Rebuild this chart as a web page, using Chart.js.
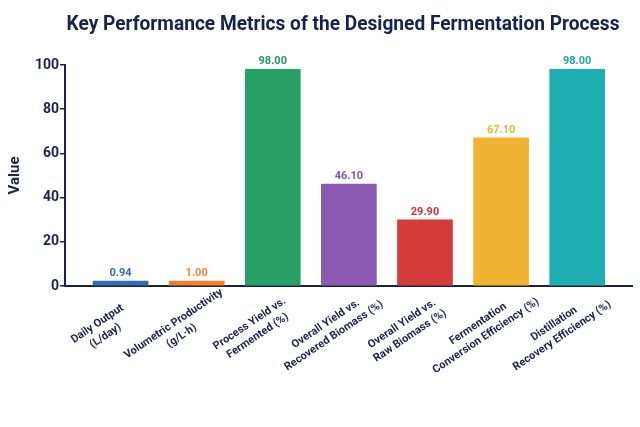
<!DOCTYPE html>
<html>
<head>
<meta charset="utf-8">
<script src="https://cdn.jsdelivr.net/npm/chart.js@4.4.1/dist/chart.umd.min.js"></script>
<style>
  html, body { margin: 0; padding: 0; background: #ffffff; }
  #wrap { width: 640px; height: 427px; position: relative; }
</style>
</head>
<body>
<div id="wrap"><canvas id="c"></canvas></div>
<script>
const chartTitle = "Key Performance Metrics of the Designed Fermentation Process";
const yAxisTitle = "Value";
const categories = [
  ["Daily Output", "(L/day)"],
  ["Volumetric Productivity", "(g/L\u00B7h)"],
  ["Process Yield vs.", "Fermented (%)"],
  ["Overall Yield vs.", "Recovered Biomass (%)"],
  ["Overall Yield vs.", "Raw Biomass (%)"],
  ["Fermentation", "Conversion Efficiency (%)"],
  ["Distillation", "Recovery Efficiency (%)"]
];
const values = [0.94, 1.00, 98.00, 46.10, 29.90, 67.10, 98.00];
const yTicks = [0, 20, 40, 60, 80, 100];

const barColors = ['#2f6db8', '#ef7f2c', '#28a065', '#8c5bb1', '#d53b3b', '#f2b333', '#1eaeb1'];
const labelColors = ['#3467ab', '#ee8634', '#1f9a5f', '#7f55a7', '#cf3131', '#efb02f', '#19a8ab'];
const navy = '#1b2444';

const valueLabels = {
  id: 'valueLabels',
  afterDatasetsDraw(chart) {
    const ctx = chart.ctx;
    const meta = chart.getDatasetMeta(0);
    ctx.save();
    ctx.font = 'bold 11px Roboto';
    ctx.textAlign = 'center';
    ctx.textBaseline = 'alphabetic';
    meta.data.forEach((bar, i) => {
      ctx.fillStyle = labelColors[i];
      ctx.fillText(values[i].toFixed(2), bar.x, bar.y - 5);
    });
    ctx.restore();
  }
};

const xLabels = {
  id: 'xLabels',
  afterDraw(chart) {
    const ctx = chart.ctx;
    const xs = chart.scales.x;
    const ang = 34 * Math.PI / 180;
    const lh = 14.5;
    ctx.save();
    ctx.font = 'bold 11px Roboto';
    ctx.fillStyle = navy;
    ctx.textAlign = 'center';
    ctx.textBaseline = 'middle';
    categories.forEach((lines, i) => {
      const tx = xs.getPixelForValue(i);
      const cx = tx - 19;
      const cy = chart.chartArea.bottom + 44;
      ctx.save();
      ctx.translate(cx, cy);
      ctx.rotate(-ang);
      lines.forEach((ln, k) => {
        ctx.fillText(ln, 0, (k - (lines.length - 1) / 2) * lh);
      });
      ctx.restore();
    });
    ctx.restore();
  }
};

const titlePlugin = {
  id: 'customTitle',
  afterDraw(chart) {
    const ctx = chart.ctx;
    ctx.save();
    ctx.font = 'bold 21px Roboto';
    ctx.fillStyle = '#16234a';
    ctx.textAlign = 'center';
    ctx.textBaseline = 'alphabetic';
    const w = ctx.measureText(chartTitle).width;
    const sx = Math.min(1, 553 / w);
    ctx.translate(343, 30);
    ctx.scale(sx, 1);
    ctx.fillText(chartTitle, 0, 0);
    ctx.restore();
  }
};

new Chart(document.getElementById('c'), {
  type: 'bar',
  data: {
    datasets: [{
      data: values.map((v, i) => ({ x: i, y: v })),
      backgroundColor: barColors,
      borderWidth: 0,
      barThickness: 55,
      minBarLength: 5
    }]
  },
  options: {
    responsive: true,
    maintainAspectRatio: false,
    animation: false,
    layout: { padding: { top: 65, right: 8, bottom: 0, left: 0 } },
    plugins: {
      legend: { display: false },
      tooltip: { enabled: false },
      title: { display: false }
    },
    scales: {
      x: {
        type: 'linear',
        min: -0.73,
        max: 6.72,
        offset: false,
        grid: { display: false },
        border: { display: true, color: navy, width: 2 },
        ticks: { display: false },
        afterFit(scale) { scale.height = 141; }
      },
      y: {
        min: 0,
        max: 100,
        afterBuildTicks(scale) { scale.ticks = yTicks.map(v => ({ value: v })); },
        grid: { drawOnChartArea: false, drawTicks: true, tickLength: 5, color: navy, lineWidth: 1.5 },
        border: { display: true, color: navy, width: 2 },
        ticks: { padding: 1, color: navy, font: { family: 'Roboto', size: 14, weight: 'bold' } },
        title: {
          display: true,
          text: yAxisTitle,
          color: navy,
          font: { family: 'Roboto', size: 15, weight: 'bold' },
          padding: { top: 6, bottom: 0 }
        },
        afterFit(scale) { scale.width = 65; }
      }
    }
  },
  plugins: [valueLabels, xLabels, titlePlugin]
});
</script>
</body>
</html>
